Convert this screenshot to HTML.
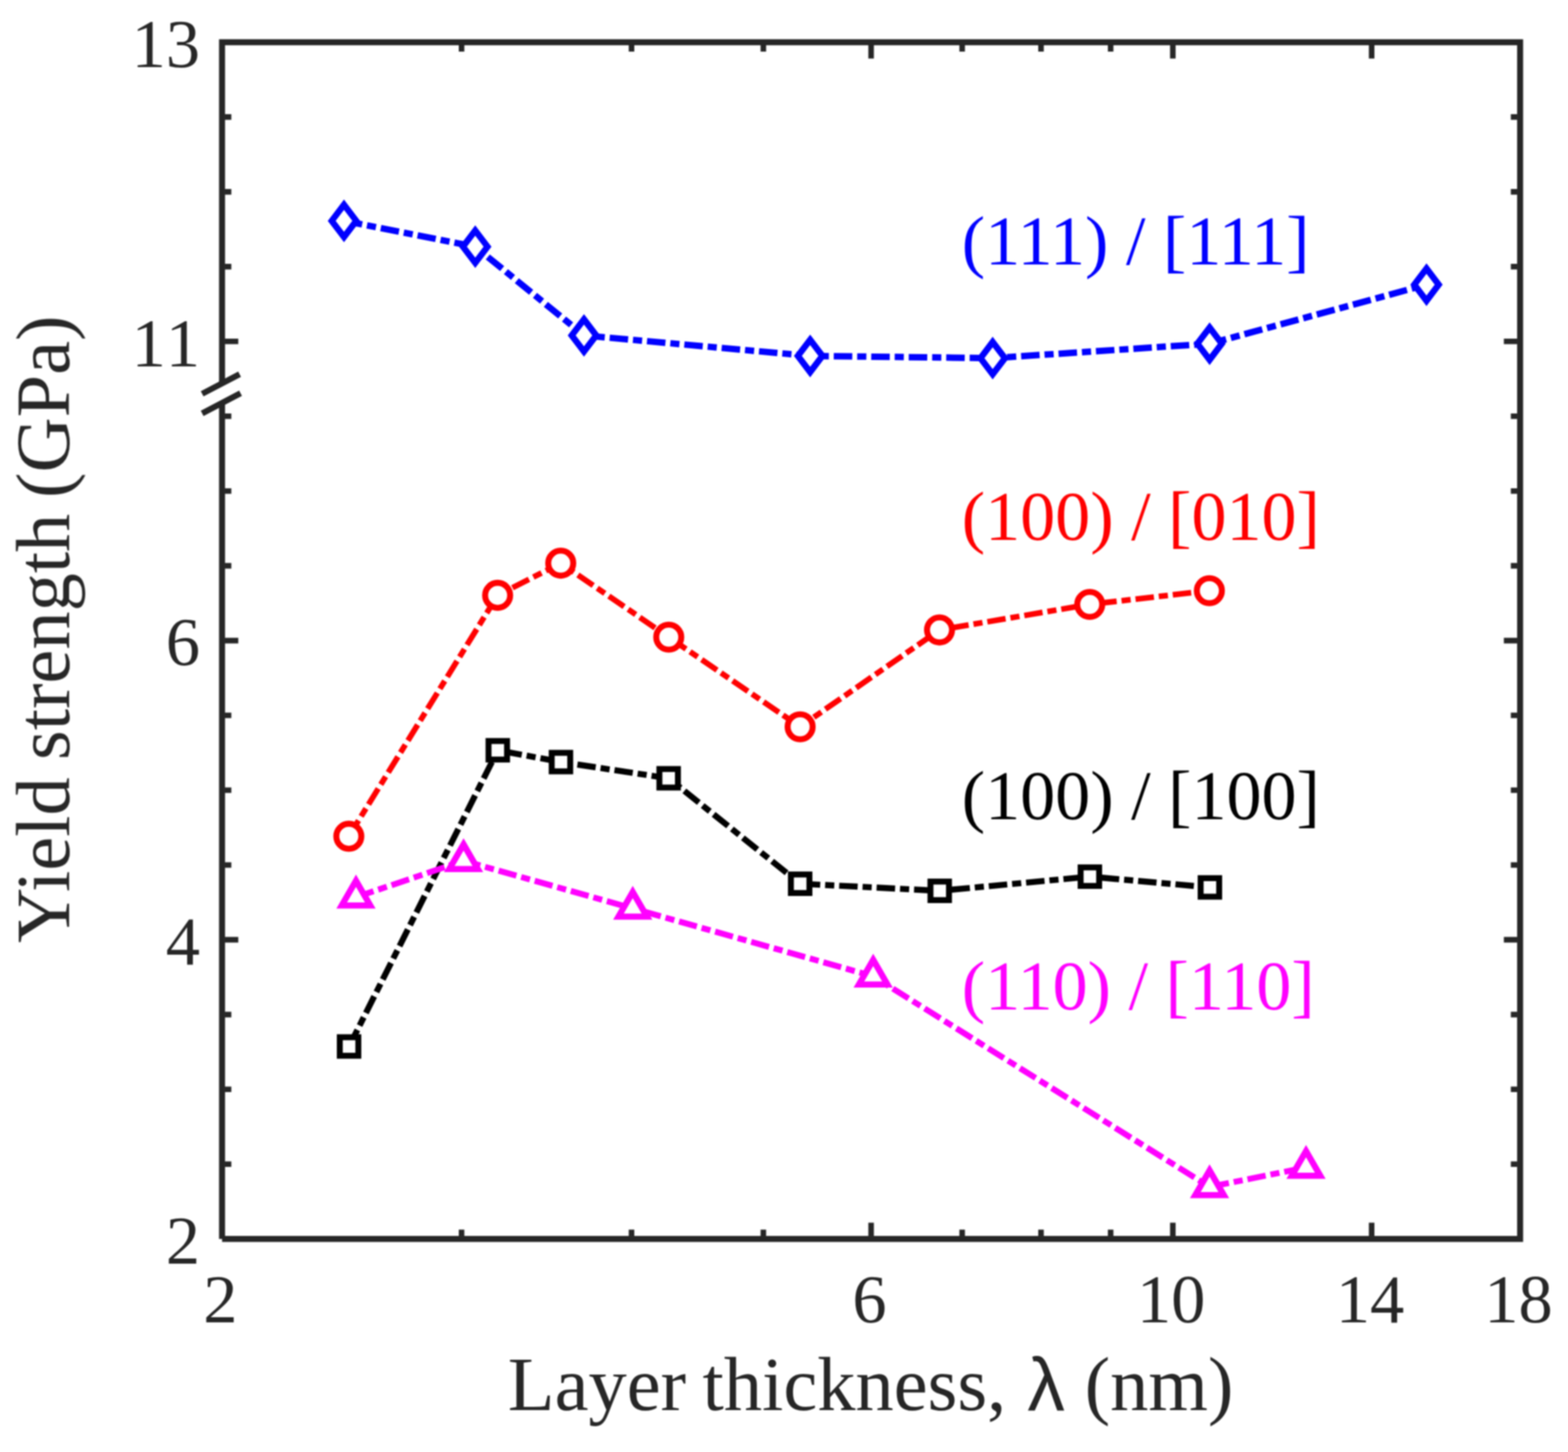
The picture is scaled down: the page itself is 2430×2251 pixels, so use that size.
<!DOCTYPE html>
<html lang="en"><head><meta charset="utf-8"><title>Yield strength vs layer thickness</title>
<style>
html,body{margin:0;padding:0;background:#fff;}
body{width:2430px;height:2251px;overflow:hidden;}
svg{display:block;}
text{font-family:"Liberation Serif","DejaVu Serif",serif;}
.tk{font-size:106px;fill:#262626;font-kerning:none;}
.lb{font-size:118.5px;fill:#262626;font-kerning:none;}
.lg{font-size:108.6px;}
</style></head><body>
<svg width="2430" height="2251" viewBox="0 0 2430 2251">
<rect width="2430" height="2251" fill="#fff"/>
<g id="figure" style="filter:blur(0.8px)">
<g id="series">
<g id="s-blue">
<path d="M533.1 342.4 L736.5 382.4 L905.0 520.0 L1255.5 551.8 L1538.4 555.2 L1874.6 532.8 L2210.7 441.3" fill="none" stroke="#0000ff" stroke-width="10.0" stroke-dasharray="28.7 7.6 14.2 7.6" stroke-dashoffset="0" stroke-linejoin="round"/>
<path d="M533.1 317.4L552.1 342.4L533.1 367.4L514.1 342.4Z" fill="#fff" stroke="#0000ff" stroke-width="9.8" stroke-linejoin="miter" stroke-miterlimit="10"/>
<path d="M736.5 357.4L755.5 382.4L736.5 407.4L717.5 382.4Z" fill="#fff" stroke="#0000ff" stroke-width="9.8" stroke-linejoin="miter" stroke-miterlimit="10"/>
<path d="M905.0 495.0L924.0 520.0L905.0 545.0L886.0 520.0Z" fill="#fff" stroke="#0000ff" stroke-width="9.8" stroke-linejoin="miter" stroke-miterlimit="10"/>
<path d="M1255.5 526.8L1274.5 551.8L1255.5 576.8L1236.5 551.8Z" fill="#fff" stroke="#0000ff" stroke-width="9.8" stroke-linejoin="miter" stroke-miterlimit="10"/>
<path d="M1538.4 530.2L1557.4 555.2L1538.4 580.2L1519.5 555.2Z" fill="#fff" stroke="#0000ff" stroke-width="9.8" stroke-linejoin="miter" stroke-miterlimit="10"/>
<path d="M1874.6 507.8L1893.5 532.8L1874.6 557.8L1855.6 532.8Z" fill="#fff" stroke="#0000ff" stroke-width="9.8" stroke-linejoin="miter" stroke-miterlimit="10"/>
<path d="M2210.7 416.3L2229.6 441.3L2210.7 466.3L2191.8 441.3Z" fill="#fff" stroke="#0000ff" stroke-width="9.8" stroke-linejoin="miter" stroke-miterlimit="10"/>
</g>
<g id="s-red">
<path d="M540.6 1296.4 L771.2 922.9 L869.0 873.1 L1036.4 987.8 L1240.0 1126.7 L1456.0 976.6 L1688.8 937.0 L1874.2 915.7" fill="none" stroke="#ff0000" stroke-width="8.8" stroke-dasharray="28.7 7.6 14.2 7.6" stroke-dashoffset="0" stroke-linejoin="round"/>
<circle cx="540.6" cy="1296.4" r="19.4" fill="#fff" stroke="#ff0000" stroke-width="9.3"/>
<circle cx="771.2" cy="922.9" r="19.4" fill="#fff" stroke="#ff0000" stroke-width="9.3"/>
<circle cx="869.0" cy="873.1" r="19.4" fill="#fff" stroke="#ff0000" stroke-width="9.3"/>
<circle cx="1036.4" cy="987.8" r="19.4" fill="#fff" stroke="#ff0000" stroke-width="9.3"/>
<circle cx="1240.0" cy="1126.7" r="19.4" fill="#fff" stroke="#ff0000" stroke-width="9.3"/>
<circle cx="1456.0" cy="976.6" r="19.4" fill="#fff" stroke="#ff0000" stroke-width="9.3"/>
<circle cx="1688.8" cy="937.0" r="19.4" fill="#fff" stroke="#ff0000" stroke-width="9.3"/>
<circle cx="1874.2" cy="915.7" r="19.4" fill="#fff" stroke="#ff0000" stroke-width="9.3"/>
</g>
<g id="s-black">
<path d="M541.0 1622.3 L771.5 1163.1 L869.4 1181.4 L1036.3 1206.6 L1240.0 1370.0 L1456.3 1381.0 L1689.0 1359.0 L1875.0 1375.7" fill="none" stroke="#000000" stroke-width="9.4" stroke-dasharray="28.7 7.6 14.2 7.6" stroke-dashoffset="0" stroke-linejoin="round"/>
<rect x="526.6" y="1608.0" width="28.7" height="28.7" fill="#fff" stroke="#000000" stroke-width="9.2"/>
<rect x="757.1" y="1148.8" width="28.7" height="28.7" fill="#fff" stroke="#000000" stroke-width="9.2"/>
<rect x="855.0" y="1167.1" width="28.7" height="28.7" fill="#fff" stroke="#000000" stroke-width="9.2"/>
<rect x="1021.9" y="1192.2" width="28.7" height="28.7" fill="#fff" stroke="#000000" stroke-width="9.2"/>
<rect x="1225.7" y="1355.7" width="28.7" height="28.7" fill="#fff" stroke="#000000" stroke-width="9.2"/>
<rect x="1442.0" y="1366.7" width="28.7" height="28.7" fill="#fff" stroke="#000000" stroke-width="9.2"/>
<rect x="1674.7" y="1344.7" width="28.7" height="28.7" fill="#fff" stroke="#000000" stroke-width="9.2"/>
<rect x="1860.7" y="1361.4" width="28.7" height="28.7" fill="#fff" stroke="#000000" stroke-width="9.2"/>
</g>
<g id="s-mag">
<path d="M551.7 1390.9 L718.4 1334.5 L980.6 1408.3 L1353.2 1513.5 L1874.5 1840.0 L2024.0 1810.0" fill="none" stroke="#ff00ff" stroke-width="9.3" stroke-dasharray="28.7 7.6 14.2 7.6" stroke-dashoffset="0" stroke-linejoin="round"/>
<path d="M551.7 1365.4L573.8 1403.7L529.6 1403.7Z" fill="#fff" stroke="#ff00ff" stroke-width="9.6" stroke-linejoin="miter" stroke-miterlimit="10"/>
<path d="M718.4 1309.0L740.5 1347.2L696.3 1347.2Z" fill="#fff" stroke="#ff00ff" stroke-width="9.6" stroke-linejoin="miter" stroke-miterlimit="10"/>
<path d="M980.6 1382.8L1002.7 1421.0L958.5 1421.0Z" fill="#fff" stroke="#ff00ff" stroke-width="9.6" stroke-linejoin="miter" stroke-miterlimit="10"/>
<path d="M1353.2 1488.0L1375.3 1526.2L1331.1 1526.2Z" fill="#fff" stroke="#ff00ff" stroke-width="9.6" stroke-linejoin="miter" stroke-miterlimit="10"/>
<path d="M1874.5 1814.5L1896.6 1852.8L1852.4 1852.8Z" fill="#fff" stroke="#ff00ff" stroke-width="9.6" stroke-linejoin="miter" stroke-miterlimit="10"/>
<path d="M2024.0 1784.5L2046.1 1822.8L2001.9 1822.8Z" fill="#fff" stroke="#ff00ff" stroke-width="9.6" stroke-linejoin="miter" stroke-miterlimit="10"/>
</g>
</g>
<g id="axes" stroke="#262626" fill="none">
<rect x="344.1" y="65.5" width="2011.7" height="1855.2" stroke-width="9.3"/>
<g stroke-width="8.6">
<path d="M348.2 181.4h10.3M2351.7 181.4h-10.3"/>
<path d="M348.2 297.4h10.3M2351.7 297.4h-10.3"/>
<path d="M348.2 413.4h10.3M2351.7 413.4h-10.3"/>
<path d="M348.2 529.3h21.1M2351.7 529.3h-21.1"/>
<path d="M348.2 645.2h10.3M2351.7 645.2h-10.3"/>
<path d="M348.2 761.2h10.3M2351.7 761.2h-10.3"/>
<path d="M348.2 877.1h10.3M2351.7 877.1h-10.3"/>
<path d="M348.2 993.1h21.1M2351.7 993.1h-21.1"/>
<path d="M348.2 1109.0h10.3M2351.7 1109.0h-10.3"/>
<path d="M348.2 1225.0h10.3M2351.7 1225.0h-10.3"/>
<path d="M348.2 1341.0h10.3M2351.7 1341.0h-10.3"/>
<path d="M348.2 1456.9h21.1M2351.7 1456.9h-21.1"/>
<path d="M348.2 1572.9h10.3M2351.7 1572.9h-10.3"/>
<path d="M348.2 1688.8h10.3M2351.7 1688.8h-10.3"/>
<path d="M348.2 1804.8h10.3M2351.7 1804.8h-10.3"/>
<path d="M715.3 69.7v10.3M715.3 1916.5v-10.3"/>
<path d="M978.7 69.7v10.3M978.7 1916.5v-10.3"/>
<path d="M1183.0 69.7v10.3M1183.0 1916.5v-10.3"/>
<path d="M1350.0 69.7v21.1M1350.0 1916.5v-21.1"/>
<path d="M1491.1 69.7v10.3M1491.1 1916.5v-10.3"/>
<path d="M1613.3 69.7v10.3M1613.3 1916.5v-10.3"/>
<path d="M1721.2 69.7v10.3M1721.2 1916.5v-10.3"/>
<path d="M1817.6 69.7v21.1M1817.6 1916.5v-21.1"/>
<path d="M2125.7 69.7v21.1M2125.7 1916.5v-21.1"/>
</g></g>
<rect x="338.5" y="1920.7" width="5.7" height="5.7" fill="#fff"/>
<g id="break">
<path d="M313.3 610.5L371.3 580.2L372.8 609.7L313.3 640.8Z" fill="#fff"/>
<path d="M313.3 610.5L371.3 580.2M313.3 640.8L372.8 609.7" stroke="#262626" stroke-width="9.3" fill="none"/>
</g>
<g id="ticklabels">
<text class="tk" x="310" y="103.8" text-anchor="end">13</text>
<text class="tk" x="310" y="567.6" text-anchor="end">11</text>
<text class="tk" x="310" y="1031.4" text-anchor="end">6</text>
<text class="tk" x="310" y="1495.2" text-anchor="end">4</text>
<text class="tk" x="310" y="1959.0" text-anchor="end">2</text>
<text class="tk" x="341.6" y="2050.3" text-anchor="middle">2</text>
<text class="tk" x="1347.5" y="2050.3" text-anchor="middle">6</text>
<text class="tk" x="1815.1" y="2050.3" text-anchor="middle">10</text>
<text class="tk" x="2123.2" y="2050.3" text-anchor="middle">14</text>
<text class="tk" x="2353.3" y="2050.3" text-anchor="middle">18</text>
</g>
<g id="annotations">
<text class="lg" x="1490.6" y="409.7" fill="#0000ff">(111) / [111]</text>
<text class="lg" x="1490.6" y="837.3" fill="#ff0000">(100) / [010]</text>
<text class="lg" x="1490.6" y="1269.7" fill="#000000">(100) / [100]</text>
<text class="lg" x="1490.6" y="1564.5" fill="#ff00ff">(110) / [110]</text>
</g>
<text class="lb" y="2186.3"><tspan x="787">Layer</tspan> <tspan x="1088.8">thickness,</tspan> <tspan x="1592.2" font-family="&quot;Liberation Sans&quot;,&quot;DejaVu Sans&quot;,sans-serif" font-size="116" dy="0.7">λ</tspan> <tspan x="1681" dy="-0.7">(nm)</tspan></text>
<text class="lb" style="font-kerning:normal" transform="translate(107.1 1460.8) rotate(-90)"><tspan x="-1">Yield</tspan> <tspan x="282.6">strength</tspan> <tspan x="688.8">(GPa)</tspan></text>
</g>
</svg></body></html>
